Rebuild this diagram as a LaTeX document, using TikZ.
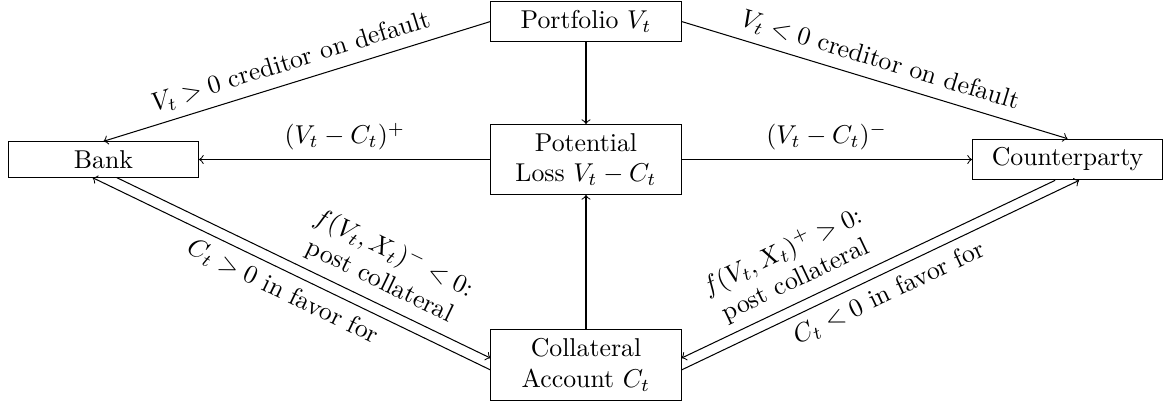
\documentclass[tikz,border=0pt]{standalone}
\usepackage{amsmath,amssymb}
\usepackage{tikz}

\begin{document}
\begin{tikzpicture}[>=to,box/.style={draw,minimum width=2.59cm,align=center}]
\useasboundingbox (-7.984,-3.399) rectangle (7.929,2.173);
\node[box] (loss) at (0,0) {Potential\\Loss $V_t-C_t$};
\node[box] (port) at (0,1.88) {Portfolio $V_t$};
\node[box] (coll) at (0,-2.80) {Collateral\\Account $C_t$};
\node[box] (bank) at (-6.574,0) {Bank};
\node[box] (cpty) at (6.56,0) {Counterparty};
\draw[->] (port) -- (loss);
\draw[->] (coll) -- (loss);
\draw[->] (loss) -- node[above] {$(V_t-C_t)^+$} (bank);
\draw[->] (loss) -- node[above] {$(V_t-C_t)^-$} (cpty);
\draw[->] (port.west) -- node[above,sloped] {$V_t>0$ creditor on default} (bank.north);
\draw[->] (port.east) -- node[above,sloped] {$V_t<0$ creditor on default} (cpty.north);
\draw[->] ([xshift=5.2pt]bank.south) -- node[pos=0.68,above,sloped,align=center] {$f(V_t,X_t)^- < 0$:\\post collateral} ([yshift=2.7pt]coll.west);
\draw[->] ([yshift=-1.9pt]coll.west) -- node[below,sloped] {$C_t>0$ in favor for} ([xshift=-4.2pt]bank.south);
\draw[->] ([xshift=-4.8pt]cpty.south) -- node[pos=0.67,above,sloped,align=center] {$f(V_t,X_t)^+ > 0$:\\post collateral} ([yshift=2.7pt]coll.east);
\draw[->] ([yshift=-1.9pt]coll.east) -- node[below,sloped] {$C_t<0$ in favor for} ([xshift=4.5pt]cpty.south);
\end{tikzpicture}
\end{document}
